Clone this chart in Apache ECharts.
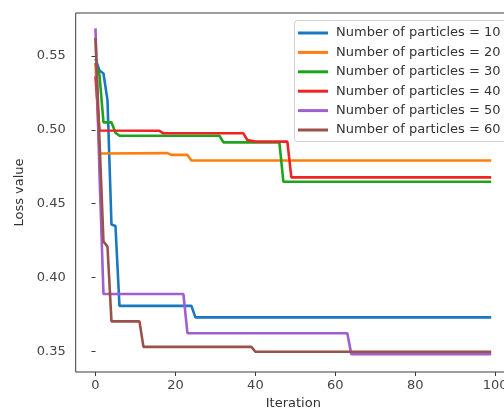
<!DOCTYPE html>
<html>
<head>
<meta charset="utf-8">
<script src="https://cdn.jsdelivr.net/npm/echarts@6/dist/echarts.min.js"></script>
<style>
html,body{margin:0;padding:0;background:#fff;}
#chart{width:504px;height:409px;}
</style>
</head>
<body>
<div id="chart"></div>
<script>
// Series names
const seriesNames = ['Number of particles = 10','Number of particles = 20','Number of particles = 30','Number of particles = 40','Number of particles = 50','Number of particles = 60'];
// Breakpoints (iteration, loss)
const iter10 = [0, 1, 2, 3, 4, 5, 6, 24, 25, 99];
const loss10 = [0.548, 0.540, 0.538, 0.520, 0.436, 0.435, 0.381, 0.381, 0.3732, 0.3732];
const iter20 = [0, 1, 18, 19, 23, 24, 99];
const loss20 = [0.545, 0.4840, 0.4842, 0.4830, 0.4830, 0.4792, 0.4792];
const iter30 = [0, 1, 2, 4, 5, 6, 31, 32, 46, 47, 99];
const loss30 = [0.545, 0.537, 0.505, 0.505, 0.498, 0.496, 0.496, 0.4915, 0.4915, 0.4649, 0.4649];
const iter40 = [0, 1, 16, 17, 37, 38, 40, 48, 49, 99];
const loss40 = [0.536, 0.4995, 0.4993, 0.4976, 0.4976, 0.4930, 0.4920, 0.4920, 0.4678, 0.4678];
const iter50 = [0, 1, 2, 22, 23, 63, 64, 99];
const loss50 = [0.5685, 0.470, 0.3890, 0.3890, 0.3625, 0.3625, 0.3483, 0.3483];
const iter60 = [0, 1, 2, 3, 4, 11, 12, 39, 40, 99];
const loss60 = [0.562, 0.493, 0.4245, 0.421, 0.3705, 0.3705, 0.3533, 0.3533, 0.3500, 0.3500];
// Tick labels
const xTicks = [0, 20, 40, 60, 80, 100];
const yTicks = [0.35, 0.40, 0.45, 0.50, 0.55];

const colors = ['#1a78c2', '#ff7f0e', '#1ca51c', '#ee2424', '#a05fcf', '#99524a'];
const iters = [iter10, iter20, iter30, iter40, iter50, iter60];
const losses = [loss10, loss20, loss30, loss40, loss50, loss60];

const font = 'DejaVu Sans';
const chart = echarts.init(document.getElementById('chart'), null, {renderer: 'canvas'});
chart.setOption({
  animation: false,
  backgroundColor: '#fff',
  color: colors,
  grid: {left: 75.7, top: 13, right: -7, bottom: 37, show: true, borderColor: '#3a3a3a', borderWidth: 1,
    containLabel: false, outerBoundsMode: 'none'},
  graphic: [{
    type: 'rect', z: 3, silent: true,
    shape: {x: 294.5, y: 20.5, width: 240, height: 121, r: 3},
    style: {fill: '#fff', stroke: '#d0d0d0', lineWidth: 1}
  }],
  legend: {
    orient: 'vertical', left: 294, top: 20,
    padding: [6, 4, 5, 4],
    icon: 'rect', itemWidth: 30, itemHeight: 3, itemGap: 5.4,
    textStyle: {fontFamily: font, fontSize: 13, color: '#333', lineHeight: 14, padding: [0, 0, 0, 3]},
    data: seriesNames
  },
  xAxis: {
    type: 'value', min: -4.95, max: 103.95,
    name: 'Iteration', nameLocation: 'middle', nameGap: 25,
    nameTextStyle: {fontFamily: font, fontSize: 13, color: '#333'},
    axisLine: {show: false},
    splitLine: {show: false},
    axisTick: {show: true, length: 4, lineStyle: {color: '#3a3a3a'}, customValues: xTicks},
    axisLabel: {fontFamily: font, fontSize: 13, color: '#444', margin: 7, customValues: xTicks}
  },
  yAxis: {
    type: 'value', min: 0.3363, max: 0.5789,
    name: 'Loss value', nameLocation: 'middle', nameGap: 47, nameRotate: 90,
    nameTextStyle: {fontFamily: font, fontSize: 13, color: '#333'},
    axisLine: {show: false},
    splitLine: {show: false},
    axisTick: {show: true, length: 4, lineStyle: {color: '#3a3a3a'}, customValues: yTicks},
    axisLabel: {fontFamily: font, fontSize: 13, color: '#444', margin: 10, customValues: yTicks,
      formatter: v => v.toFixed(2)}
  },
  series: seriesNames.map((n, i) => ({
    name: n, type: 'line', showSymbol: false, symbol: 'none',
    lineStyle: {width: 2.6, color: colors[i]},
    itemStyle: {color: colors[i]},
    data: iters[i].map((x, k) => [x, losses[i][k]])
  }))
});
</script>
</body>
</html>
